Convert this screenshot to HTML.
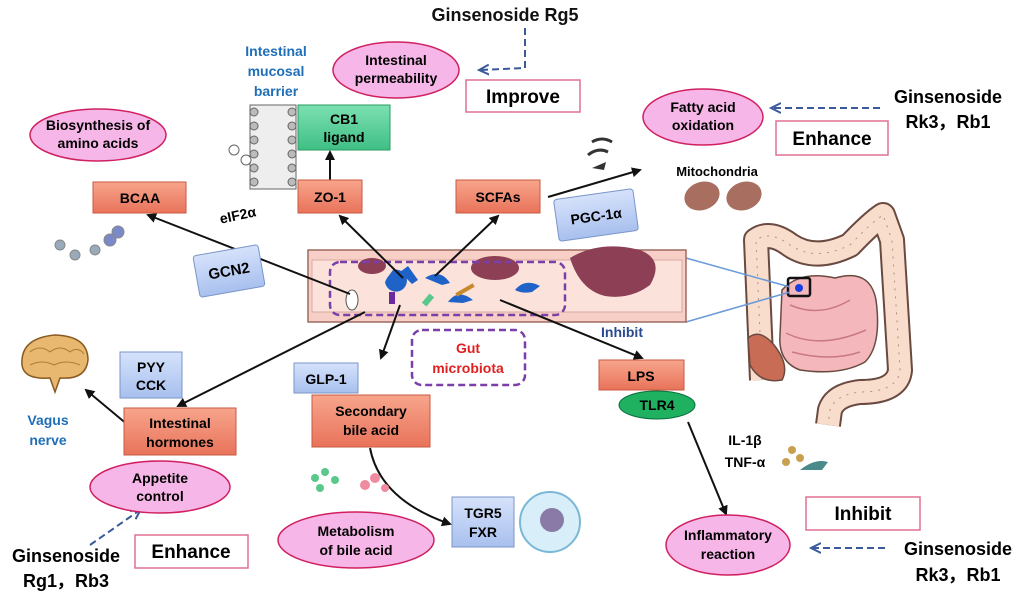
<!DOCTYPE html>
<html><head><meta charset="utf-8"><style>
body{margin:0;background:#fff;}
svg{display:block;font-family:"Liberation Sans",Arial,sans-serif;font-weight:bold;}
</style></head><body>
<svg width="1024" height="598" viewBox="0 0 1024 598" xmlns="http://www.w3.org/2000/svg">
<defs>
<marker id="a" markerWidth="10" markerHeight="10" refX="8" refY="5" orient="auto" markerUnits="userSpaceOnUse"><path d="M0,0 L10,5 L0,10 z" fill="#111"/></marker>
<marker id="b" markerWidth="12" markerHeight="12" refX="9" refY="6" orient="auto" markerUnits="userSpaceOnUse"><path d="M0,1 L10,6 L0,11" fill="none" stroke="#3a5a9a" stroke-width="2"/></marker>
<linearGradient id="sal" x1="0" y1="0" x2="0" y2="1"><stop offset="0" stop-color="#f7a58c"/><stop offset="1" stop-color="#e8735a"/></linearGradient>
<linearGradient id="blu" x1="0" y1="0" x2="0" y2="1"><stop offset="0" stop-color="#d6e2fb"/><stop offset="1" stop-color="#a8c0ee"/></linearGradient>
<linearGradient id="grn" x1="0" y1="0" x2="0" y2="1"><stop offset="0" stop-color="#7ce0b0"/><stop offset="1" stop-color="#3fbf85"/></linearGradient>
</defs>

<!-- colon image -->
<g fill="none" stroke-linecap="butt" stroke-linejoin="round">
<path d="M762,380 L756,240 Q770,230 790,245 Q815,262 850,245 Q872,222 883,215 L892,240 L900,370 Q898,392 860,392 Q835,395 830,410 L828,425" stroke="#6a4a40" stroke-width="26"/>
<path d="M762,380 L756,240 Q770,230 790,245 Q815,262 850,245 Q872,222 883,215 L892,240 L900,370 Q898,392 860,392 Q835,395 830,410 L828,425" stroke="#f8dccc" stroke-width="22"/>
<path d="M762,380 L756,240 Q770,230 790,245 Q815,262 850,245 Q872,222 883,215 L892,240 L900,370 Q898,392 860,392 Q835,395 830,410 L828,425" stroke="#b89080" stroke-width="1" stroke-dasharray="2,6"/>
</g>
<g stroke="#6a4a40" stroke-width="1.5">
<path d="M782,290 Q800,270 835,278 Q870,268 876,300 Q882,345 865,362 Q840,376 800,370 Q778,362 780,335 Z" fill="#f4b8bc"/>
<path d="M790,305 Q820,318 850,300 M786,333 Q820,350 866,330 M792,352 Q830,362 860,352" fill="none" stroke="#c97a80"/>
<path d="M748,338 Q760,328 774,345 Q790,365 782,380 Q760,384 750,365 Z" fill="#c86c55"/>
</g>
<rect x="788" y="278" width="22" height="18" fill="none" stroke="#111" stroke-width="2.5" rx="2"/>
<circle cx="799" cy="288" r="4" fill="#1a40e0"/>
<line x1="686" y1="258" x2="790" y2="287" stroke="#6a9ad8" stroke-width="1.5"/>
<line x1="686" y1="322" x2="790" y2="292" stroke="#6a9ad8" stroke-width="1.5"/>

<!-- gut tube -->
<rect x="308" y="250" width="378" height="72" fill="#f7cfc6" stroke="#9e6a60" stroke-width="1.5"/>
<rect x="312" y="260" width="370" height="52" fill="#fbe3dc" stroke="#d8a8a0"/>
<path d="M570,258 Q600,240 640,250 Q665,260 650,285 Q630,300 605,296 Q580,290 570,258Z" fill="#8c3f55"/>
<ellipse cx="495" cy="268" rx="24" ry="12" fill="#8c3f55"/>
<ellipse cx="372" cy="266" rx="14" ry="8" fill="#8c3f55"/>
<rect x="330" y="262" width="235" height="53" rx="10" fill="none" stroke="#7a3fa8" stroke-width="2.5" stroke-dasharray="7,4"/>
<g fill="#1f63c8">
<path d="M385,282 a11,11 0 1 0 8,-12 l-6,8 z"/>
<path d="M400,272 l8,-6 l10,14 l-6,4 z"/>
<path d="M425,278 q15,-10 25,5 l-8,2 z"/>
<path d="M448,302 q10,-14 25,-2 l-10,3 z"/>
<path d="M515,290 q10,-12 25,-4 l-8,6 q-10,2 -17,-2z"/>
</g>
<rect x="389" y="292" width="6" height="12" fill="#6a2aa0"/>
<rect x="425" y="294" width="6" height="12" fill="#5ac88a" transform="rotate(40 428 300)"/>
<rect x="455" y="288" width="20" height="4" fill="#c8892a" transform="rotate(-30 465 290)"/>
<ellipse cx="352" cy="300" rx="6" ry="10" fill="#fff" stroke="#555"/>

<!-- arrows -->
<g stroke="#111" stroke-width="2" fill="none" marker-end="url(#a)">
<line x1="350" y1="294" x2="148" y2="215"/>
<line x1="403" y1="278" x2="340" y2="216"/>
<line x1="330" y1="180" x2="330" y2="152"/>
<line x1="435" y1="276" x2="498" y2="216"/>
<line x1="548" y1="197" x2="640" y2="170"/>
<line x1="365" y1="312" x2="178" y2="406"/>
<line x1="400" y1="305" x2="381" y2="358"/>
<line x1="500" y1="300" x2="642" y2="358"/>
<path d="M370,448 Q380,500 450,524"/>
<line x1="688" y1="422" x2="726" y2="514"/>
<line x1="128" y1="425" x2="86" y2="390"/>
</g>
<g stroke="#3a5a9a" stroke-width="2" fill="none" stroke-dasharray="7,4" marker-end="url(#b)">
<path d="M525,28 L525,68 L480,70"/>
<line x1="880" y1="108" x2="772" y2="108"/>
<line x1="90" y1="545" x2="140" y2="510"/>
<line x1="885" y1="548" x2="812" y2="548"/>
</g>

<!-- top -->
<text x="505" y="21" font-size="18" text-anchor="middle" fill="#111">Ginsenoside Rg5</text>
<ellipse cx="396" cy="70" rx="63" ry="28" fill="#f7b6e8" stroke="#d02060" stroke-width="1.5"/>
<text x="396" y="65" font-size="14" text-anchor="middle">Intestinal</text>
<text x="396" y="83" font-size="14" text-anchor="middle">permeability</text>
<rect x="466" y="80" width="114" height="32" fill="#fff" stroke="#e07090" stroke-width="1.5"/>
<text x="523" y="103" font-size="19" text-anchor="middle">Improve</text>
<g fill="#1f6fb8" font-size="14" text-anchor="middle">
<text x="276" y="56">Intestinal</text><text x="276" y="76">mucosal</text><text x="276" y="96">barrier</text></g>
<g fill="#bbb" stroke="#666">
<rect x="250" y="105" width="46" height="84" fill="#eee"/>
<circle cx="254" cy="112" r="4"/><circle cx="254" cy="126" r="4"/><circle cx="254" cy="140" r="4"/><circle cx="254" cy="154" r="4"/><circle cx="254" cy="168" r="4"/><circle cx="254" cy="182" r="4"/>
<circle cx="292" cy="112" r="4"/><circle cx="292" cy="126" r="4"/><circle cx="292" cy="140" r="4"/><circle cx="292" cy="154" r="4"/><circle cx="292" cy="168" r="4"/><circle cx="292" cy="182" r="4"/>
<circle cx="234" cy="150" r="5" fill="#fff"/><circle cx="246" cy="160" r="5" fill="#fff"/>
</g>
<rect x="298" y="105" width="92" height="45" fill="url(#grn)" stroke="#2a9a60"/>
<text x="344" y="124" font-size="14" text-anchor="middle">CB1</text><text x="344" y="142" font-size="14" text-anchor="middle">ligand</text>
<rect x="298" y="180" width="64" height="33" fill="url(#sal)" stroke="#c85a40"/>
<text x="330" y="202" font-size="14" text-anchor="middle">ZO-1</text>

<ellipse cx="98" cy="135" rx="68" ry="26" fill="#f7b6e8" stroke="#d02060" stroke-width="1.5"/>
<text x="98" y="130" font-size="14" text-anchor="middle">Biosynthesis of</text>
<text x="98" y="148" font-size="14" text-anchor="middle">amino acids</text>
<rect x="93" y="182" width="93" height="31" fill="url(#sal)" stroke="#c85a40"/>
<text x="140" y="203" font-size="14" text-anchor="middle">BCAA</text>
<g stroke="#888"><circle cx="60" cy="245" r="5" fill="#9ab"/><circle cx="75" cy="255" r="5" fill="#9ab"/><circle cx="95" cy="250" r="5" fill="#9ab"/><circle cx="110" cy="240" r="6" fill="#7a8ac8"/><circle cx="118" cy="232" r="6" fill="#7a8ac8"/></g>

<rect x="456" y="180" width="84" height="33" fill="url(#sal)" stroke="#c85a40"/>
<text x="498" y="202" font-size="14" text-anchor="middle">SCFAs</text>
<rect x="556" y="194" width="80" height="42" rx="3" fill="url(#blu)" stroke="#7a95c8" transform="rotate(-8 596 215)"/>
<text x="596" y="221" font-size="14" text-anchor="middle" transform="rotate(-8 596 215)">PGC-1α</text>
<path d="M588,155 q10,-8 20,-3 M592,142 q10,-6 20,0" stroke="#333" stroke-width="3" fill="none"/>
<path d="M592,168 l14,-6 l-2,8z" fill="#333"/>

<ellipse cx="703" cy="117" rx="60" ry="28" fill="#f7b6e8" stroke="#d02060" stroke-width="1.5"/>
<text x="703" y="112" font-size="14" text-anchor="middle">Fatty acid</text>
<text x="703" y="130" font-size="14" text-anchor="middle">oxidation</text>
<rect x="776" y="121" width="112" height="34" fill="#fff" stroke="#e07090" stroke-width="1.5"/>
<text x="832" y="145" font-size="19" text-anchor="middle">Enhance</text>
<text x="948" y="103" font-size="18" text-anchor="middle">Ginsenoside</text>
<text x="948" y="128" font-size="18" text-anchor="middle">Rk3，Rb1</text>
<text x="717" y="176" font-size="13" text-anchor="middle">Mitochondria</text>
<ellipse cx="702" cy="196" rx="18" ry="14" fill="#a86e60" transform="rotate(-20 702 196)"/>
<ellipse cx="744" cy="196" rx="18" ry="14" fill="#a86e60" transform="rotate(-20 744 196)"/>

<text x="238" y="220" font-size="14" text-anchor="middle" transform="rotate(-12 238 216)">eIF2α</text>
<rect x="196" y="250" width="66" height="42" rx="3" fill="url(#blu)" stroke="#7a95c8" transform="rotate(-10 229 271)"/>
<text x="229" y="276" font-size="15" text-anchor="middle" transform="rotate(-10 229 271)">GCN2</text>

<text x="622" y="337" font-size="14" text-anchor="middle" fill="#2a4a90">Inhibit</text>
<rect x="412" y="330" width="113" height="55" rx="10" fill="#fff" stroke="#7a3fa8" stroke-width="2.5" stroke-dasharray="7,4"/>
<text x="468" y="353" font-size="14" text-anchor="middle" fill="#e02020">Gut</text>
<text x="468" y="373" font-size="14" text-anchor="middle" fill="#e02020">microbiota</text>

<path d="M22,365 Q20,338 55,335 Q88,336 88,360 Q86,380 60,378 L55,392 L50,378 Q24,380 22,365Z" fill="#e8b870" stroke="#8a5a20" stroke-width="1.5"/>
<path d="M30,352 q10,-8 20,0 q10,-8 20,0 q8,-6 14,2 M30,365 q12,-6 24,0 q12,-6 26,0" fill="none" stroke="#b07a30"/>
<text x="48" y="425" font-size="14" text-anchor="middle" fill="#1f6fb8">Vagus</text>
<text x="48" y="445" font-size="14" text-anchor="middle" fill="#1f6fb8">nerve</text>
<rect x="120" y="352" width="62" height="46" fill="url(#blu)" stroke="#7a95c8"/>
<text x="151" y="372" font-size="14" text-anchor="middle">PYY</text><text x="151" y="390" font-size="14" text-anchor="middle">CCK</text>
<rect x="124" y="408" width="112" height="47" fill="url(#sal)" stroke="#c85a40"/>
<text x="180" y="428" font-size="14" text-anchor="middle">Intestinal</text><text x="180" y="447" font-size="14" text-anchor="middle">hormones</text>
<ellipse cx="160" cy="487" rx="70" ry="26" fill="#f7b6e8" stroke="#d02060" stroke-width="1.5"/>
<text x="160" y="483" font-size="14" text-anchor="middle">Appetite</text><text x="160" y="501" font-size="14" text-anchor="middle">control</text>
<rect x="135" y="535" width="113" height="33" fill="#fff" stroke="#e07090" stroke-width="1.5"/>
<text x="191" y="558" font-size="19" text-anchor="middle">Enhance</text>
<text x="66" y="562" font-size="18" text-anchor="middle">Ginsenoside</text>
<text x="66" y="587" font-size="18" text-anchor="middle">Rg1，Rb3</text>

<rect x="294" y="363" width="64" height="30" fill="url(#blu)" stroke="#7a95c8"/>
<text x="326" y="384" font-size="14" text-anchor="middle">GLP-1</text>
<rect x="312" y="395" width="118" height="52" fill="url(#sal)" stroke="#c85a40"/>
<text x="371" y="416" font-size="14" text-anchor="middle">Secondary</text><text x="371" y="435" font-size="14" text-anchor="middle">bile acid</text>
<g fill="#5ac88a"><circle cx="315" cy="478" r="4"/><circle cx="325" cy="472" r="4"/><circle cx="335" cy="480" r="4"/><circle cx="320" cy="488" r="4"/></g>
<g fill="#f08aa0"><circle cx="365" cy="485" r="5"/><circle cx="375" cy="478" r="5"/><circle cx="385" cy="488" r="4"/></g>
<ellipse cx="356" cy="540" rx="78" ry="28" fill="#f7b6e8" stroke="#d02060" stroke-width="1.5"/>
<text x="356" y="536" font-size="14" text-anchor="middle">Metabolism</text><text x="356" y="555" font-size="14" text-anchor="middle">of bile acid</text>
<rect x="452" y="497" width="62" height="50" fill="url(#blu)" stroke="#7a95c8"/>
<text x="483" y="518" font-size="14" text-anchor="middle">TGR5</text><text x="483" y="537" font-size="14" text-anchor="middle">FXR</text>
<circle cx="550" cy="522" r="30" fill="#d8eef8" stroke="#7ab8d8" stroke-width="2"/>
<circle cx="552" cy="520" r="12" fill="#8a7aa8"/>

<rect x="599" y="360" width="85" height="30" fill="url(#sal)" stroke="#c85a40"/>
<text x="641" y="381" font-size="14" text-anchor="middle">LPS</text>
<ellipse cx="657" cy="405" rx="38" ry="14" fill="#1fb060" stroke="#0a7040"/>
<text x="657" y="410" font-size="14" text-anchor="middle">TLR4</text>
<text x="745" y="445" font-size="14" text-anchor="middle">IL-1β</text>
<text x="745" y="467" font-size="14" text-anchor="middle">TNF-α</text>
<g fill="#c8a050"><circle cx="792" cy="450" r="4"/><circle cx="800" cy="458" r="4"/><circle cx="786" cy="462" r="4"/></g>
<path d="M800,470 q15,-12 28,-8 l-6,8 z" fill="#4a8a8a"/>
<rect x="806" y="497" width="114" height="33" fill="#fff" stroke="#e07090" stroke-width="1.5"/>
<text x="863" y="520" font-size="19" text-anchor="middle">Inhibit</text>
<ellipse cx="728" cy="545" rx="62" ry="30" fill="#f7b6e8" stroke="#d02060" stroke-width="1.5"/>
<text x="728" y="540" font-size="14" text-anchor="middle">Inflammatory</text><text x="728" y="559" font-size="14" text-anchor="middle">reaction</text>
<text x="958" y="555" font-size="18" text-anchor="middle">Ginsenoside</text>
<text x="958" y="581" font-size="18" text-anchor="middle">Rk3，Rb1</text>
</svg>
</body></html>
